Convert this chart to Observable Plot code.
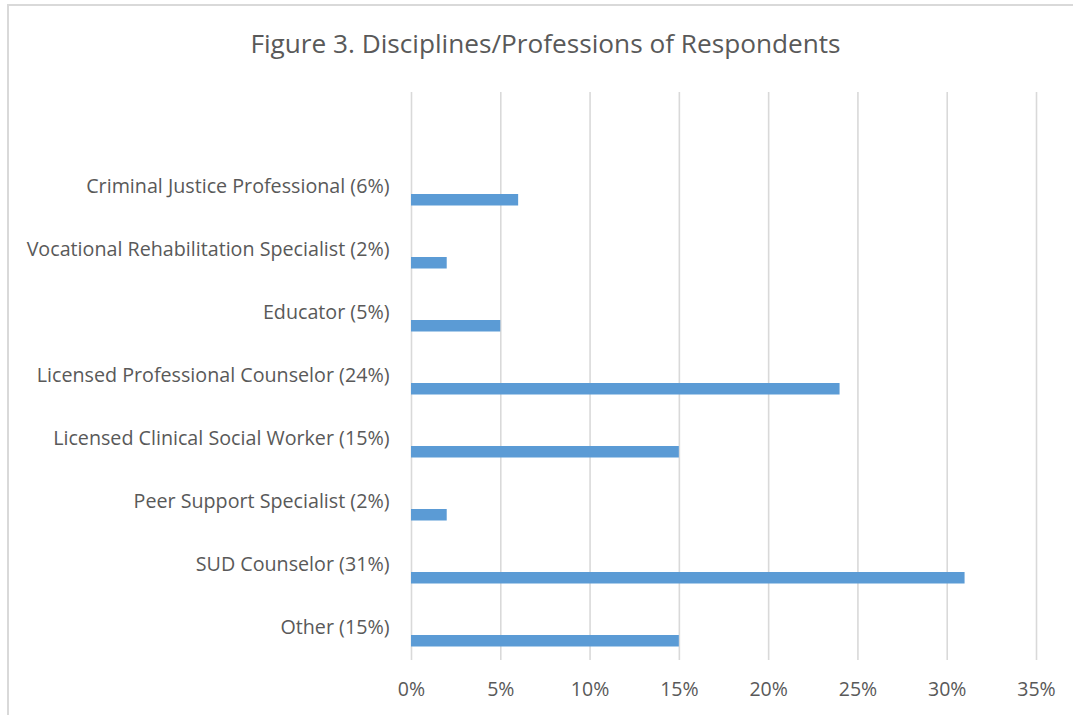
<!DOCTYPE html>
<html>
<head>
<meta charset="utf-8">
<script src="https://cdn.jsdelivr.net/npm/d3@7"></script>
<script src="https://cdn.jsdelivr.net/npm/@observablehq/plot@0.6"></script>
<style>
  html, body { margin: 0; padding: 0; background: #fff; }
  #wrap { position: relative; width: 1073px; height: 715px; overflow: hidden; font-family: "Open Sans", Lato, sans-serif; }
  #frame { position: absolute; left: 7px; top: 4px; width: 1100px; height: 800px; border-left: 2px solid #d9d9d9; border-top: 2px solid #d9d9d9; }
  #title { position: absolute; left: 0; width: 1091px; top: 25px; text-align: center; font-size: 26.2px; color: #595959; }
  #chart { position: absolute; left: 0; top: 0; }
</style>
</head>
<body>
<div id="wrap">
  <div id="frame"></div>
  <div id="chart"></div>
  <div id="title">Figure 3. Disciplines/Professions of Respondents</div>
</div>
<script>
const professions = [
  "Criminal Justice Professional",
  "Vocational Rehabilitation Specialist",
  "Educator",
  "Licensed Professional Counselor",
  "Licensed Clinical Social Worker",
  "Peer Support Specialist",
  "SUD Counselor",
  "Other"
];
const percents = [6, 2, 5, 24, 15, 2, 31, 15];
const xTicks = [0, 5, 10, 15, 20, 25, 30, 35];

const data = professions.map((p, i) => ({ label: `${p} (${percents[i]}%)`, value: percents[i] }));

const chart = Plot.plot({
  width: 1073,
  height: 715,
  marginLeft: 411,
  marginRight: 37,
  marginTop: 92,
  marginBottom: 55,
  style: { fontFamily: "'Open Sans', Lato, sans-serif", background: "transparent", color: "#595959" },
  x: { domain: [0, 35], ticks: xTicks, tickFormat: d => d + "%", grid: false, label: null },
  y: { domain: data.map(d => d.label), range: [155.2, 660], padding: 0, label: null },
  marks: [
    Plot.gridX(xTicks, { stroke: "#d9d9d9", strokeOpacity: 1, strokeWidth: 1.6 }),
    Plot.axisX({ ticks: xTicks, tickSize: 0, tickPadding: 21.5, fontSize: 19.5, tickFormat: d => d + "%", fill: "#595959", label: null }),
    Plot.axisY({ tickSize: 0, tickPadding: 22, fontSize: 19.7, fill: "#595959", label: null, dy: -1 }),
    Plot.barX(data, { x: "value", y: "label", fill: "#5b9bd5", insetTop: 38, insetBottom: 13.5 })
  ]
});
document.getElementById("chart").appendChild(chart);
</script>
</body>
</html>
